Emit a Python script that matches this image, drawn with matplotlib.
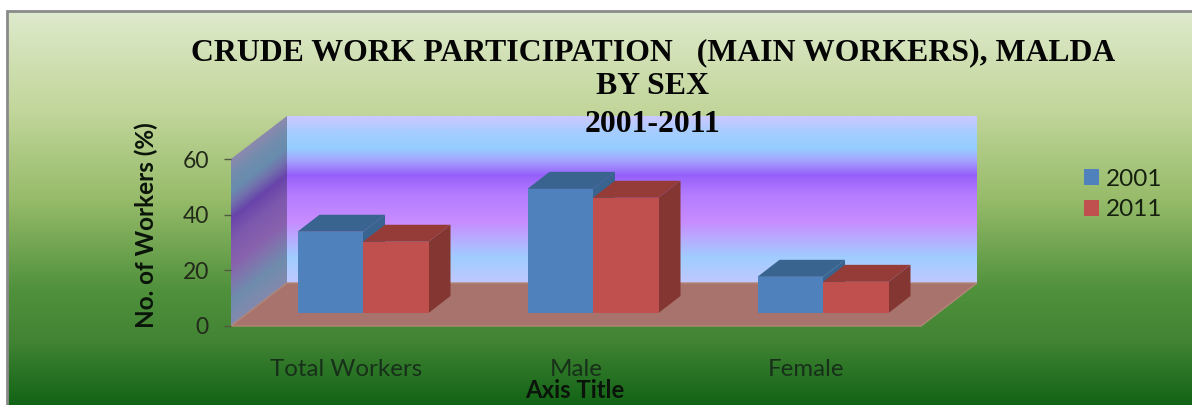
import numpy as np
import matplotlib
matplotlib.use("Agg")
import matplotlib.pyplot as plt
from matplotlib.patches import Polygon, Rectangle
from matplotlib.transforms import Affine2D

categories = ["Total Workers", "Male", "Female"]
series_names = ["2001", "2011"]
values_2001 = [29.2, 44.6, 13.0]
values_2011 = [25.6, 41.4, 11.2]
y_ticks = [0, 20, 40, 60]
title_lines = ["CRUDE WORK PARTICIPATION   (MAIN WORKERS), MALDA", "BY SEX", "2001-2011"]
x_title = "Axis Title"
y_title = "No. of Workers (%)"

W, H = 1192, 405
SANS = "Lato"
fig = plt.figure(figsize=(W / 100, H / 100), dpi=100, facecolor="white")


def lerp_grad(ys, stops):
    pos = [s[0] for s in stops]
    return np.stack([np.interp(ys, pos, [s[1][k] for s in stops]) for k in range(3)], axis=-1) / 255


# pixel-space backdrop
bg = fig.add_axes([0, 0, 1, 1])
bg.set_xlim(0, W)
bg.set_ylim(H, 0)
bg.axis("off")

bg_stops = [(11, (222, 234, 206)), (60, (208, 224, 178)), (110, (194, 214, 155)),
            (200, (150, 187, 105)), (290, (80, 145, 60)), (340, (66, 132, 52)), (405, (18, 100, 22))]
ys = np.arange(11, H + 1)
grad = lerp_grad(ys, bg_stops)[:, None, :]
bg.imshow(grad, extent=(7, W, H, 11), aspect="auto", zorder=0, interpolation="bilinear")
bg.plot([6.5, 6.5, W], [H, 11, 11], color="#8a8a8a", lw=2, zorder=1, solid_joinstyle="miter")

# walls
L, R, TOP, FRONT = 231, 921, 159, 326
DX, DY = 56, 43
wall_stops = [(117, (202, 200, 255)), (132, (165, 205, 255)), (148, (150, 205, 255)),
              (160, (165, 165, 255)), (175, (150, 95, 250)), (195, (180, 125, 255)),
              (222, (200, 140, 255)), (238, (185, 170, 255)), (258, (160, 205, 255)), (283, (192, 200, 255))]
wy = np.arange(FRONT - DY - (FRONT - TOP), FRONT - DY + 1)
bg.imshow(lerp_grad(wy, wall_stops)[:, None, :], extent=(L + DX, R + DX, FRONT - DY, TOP - DY),
          aspect="auto", zorder=2, interpolation="bilinear")

xs = np.arange(L, L + DX + 1)
ysw = np.arange(TOP - DY, FRONT + 1)
XX, YY = np.meshgrid(xs, ysw)
YE = YY - DY * (1 - (XX - L) / DX)
side = lerp_grad(YE, wall_stops) * 0.66 + 0.02
im = bg.imshow(side, extent=(L, L + DX, FRONT, TOP - DY), aspect="auto", zorder=2, interpolation="bilinear")
clip = Polygon([(L, TOP), (L + DX, TOP - DY), (L + DX, FRONT - DY), (L, FRONT)], transform=bg.transData,
               fc="none", ec="none")
bg.add_patch(clip)
im.set_clip_path(clip)
bg.add_patch(Polygon([(L, FRONT), (L + DX, FRONT - DY), (R + DX, FRONT - DY), (R, FRONT)],
                     fc=(168 / 255, 115 / 255, 108 / 255), ec=(178 / 255, 135 / 255, 120 / 255), lw=1, zorder=3))
bg.set_xlim(0, W)
bg.set_ylim(H, 0)

# data axes: front plane of the 3-D box
ax = fig.add_axes([L / W, 1 - FRONT / H, (R - L) / W, (FRONT - TOP) / H])
ax.patch.set_alpha(0)
for s in ax.spines.values():
    s.set_visible(False)
pos = np.arange(len(categories))
ax.set_xlim(-0.5, 2.5)
ax.set_ylim(0, 60)

BAR_W = 65.5 / 230
SHIFT = Affine2D().translate(17, 13)
base = ax.transData + SHIFT
BDX, BDY = 22, 17


def draw_series(x_centers, vals, front, top, right, z):
    rects = ax.bar(x_centers, vals, BAR_W, color=front, transform=base, zorder=z + 0.2, clip_on=False)
    for xc, v in zip(x_centers, vals):
        (x0, y0), (x1, y1) = base.transform([(xc - BAR_W / 2, 0), (xc + BAR_W / 2, v)])
        ax.add_patch(Polygon([(x0, y1), (x0 + BDX, y1 + BDY), (x1 + BDX, y1 + BDY), (x1, y1)], fc=top, ec="none",
                             transform=None, zorder=z, clip_on=False))
        ax.add_patch(Polygon([(x1, y0), (x1 + BDX, y0 + BDY), (x1 + BDX, y1 + BDY), (x1, y1)], fc=right, ec="none",
                             transform=None, zorder=z, clip_on=False))
    return rects


r1 = draw_series(pos - BAR_W / 2, values_2001, "#4f81bd", "#38648f", "#38648f", 3)
r2 = draw_series(pos + BAR_W / 2, values_2011, "#c0504d", "#963c38", "#843732", 4)

ax.set_xticks(pos, categories)
ax.set_yticks(y_ticks)
ax.tick_params(axis="x", length=0, pad=24, labelsize=17.4, labelcolor="#18301a")
ax.tick_params(axis="y", length=5, width=1, color="#505a40", pad=11, labelsize=16.5, labelcolor="#222a1a")
for t in ax.get_xticklabels() + ax.get_yticklabels():
    t.set_fontfamily(SANS)
for t in ax.get_yticklabels():
    t.set_verticalalignment("center_baseline")

txt_c = "#0a140a"
for line, yc in zip(title_lines, [53, 87, 125]):
    fig.text(653 / W, 1 - yc / H, line, ha="center", va="center", family="Liberation Serif", weight="bold",
             fontsize=22.9, color="#050505", zorder=10)
fig.text(575 / W, 1 - 391 / H, x_title, ha="center", va="center", family=SANS, weight="bold", fontsize=17.2,
         color=txt_c, zorder=10)
fig.text(146 / W, 1 - 225 / H, y_title, ha="center", va="center", rotation=90, family=SANS, weight="bold",
         fontsize=17.5, color=txt_c, zorder=10)

fig.legend([r1[0], r2[0]], series_names, loc="upper left", bbox_to_anchor=(1062 / W, 1 - 147 / H),
           frameon=False, prop={"family": SANS, "size": 17.5}, handlelength=0.62, handleheight=0.62,
           handletextpad=0.29, labelspacing=0.39, labelcolor="#16200f")

fig.savefig("out.png", dpi=100)
